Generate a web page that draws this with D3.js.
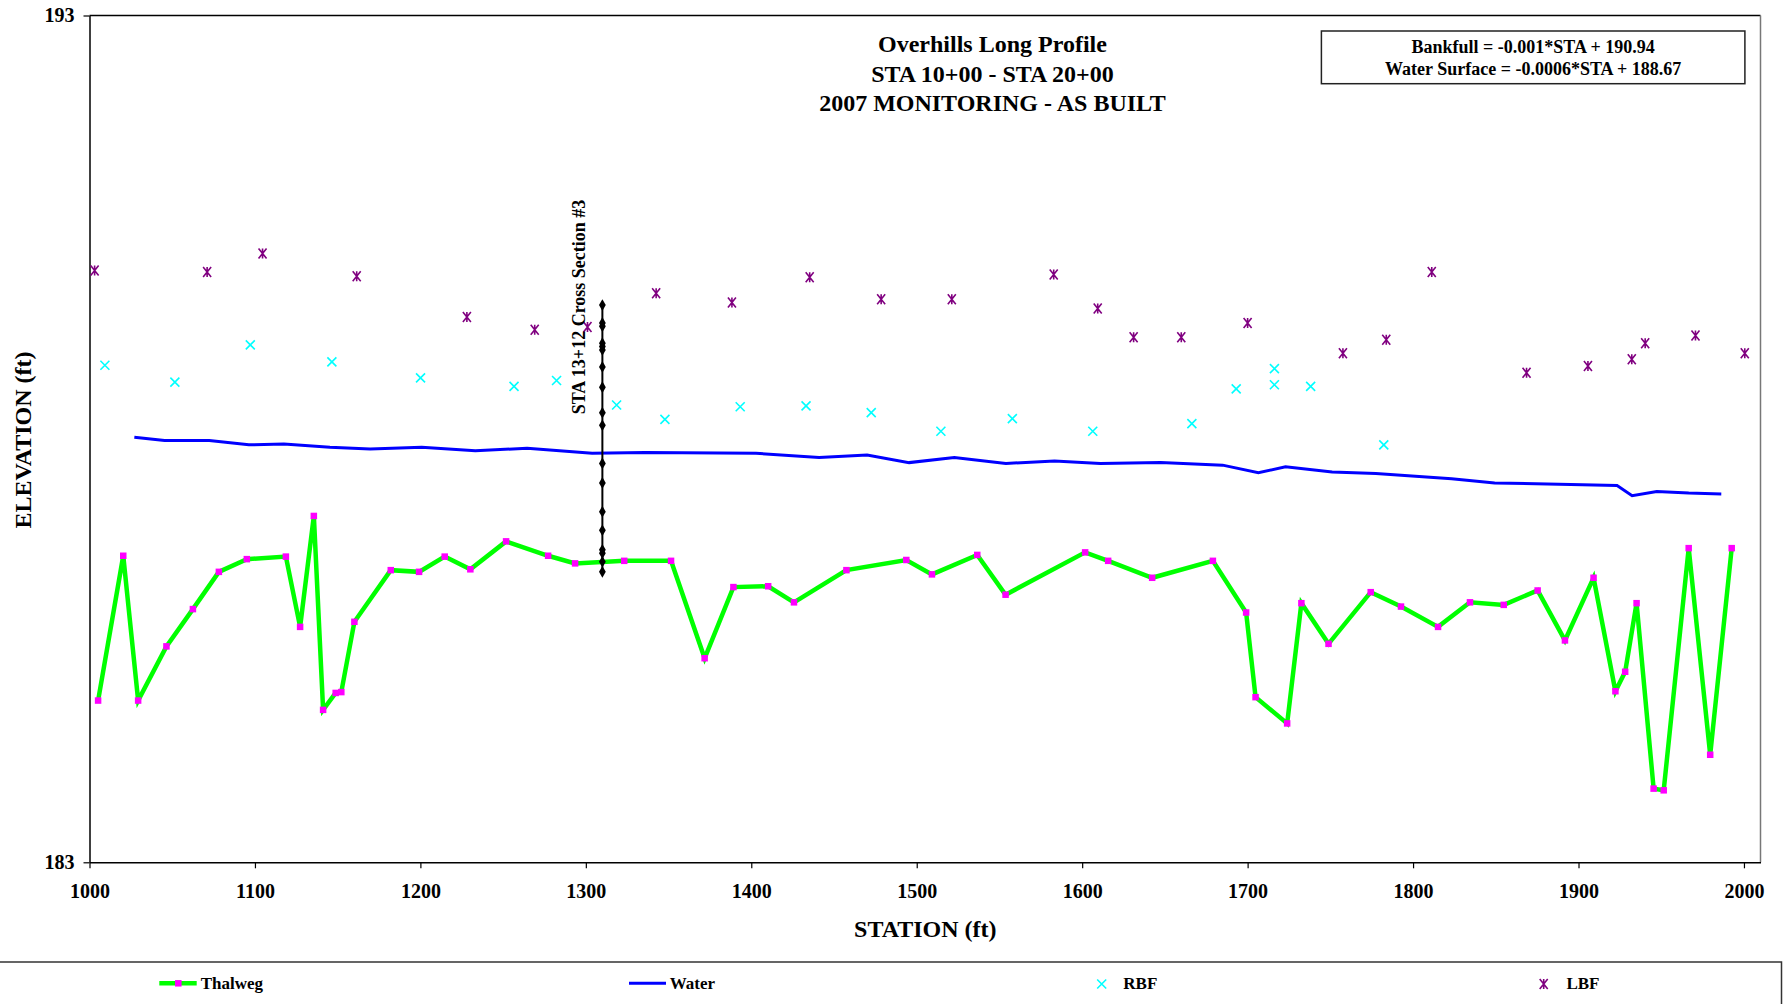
<!DOCTYPE html>
<html>
<head>
<meta charset="utf-8">
<script src="https://cdn.jsdelivr.net/npm/d3@7"></script>
<style>
  html, body { margin: 0; padding: 0; background: #fff; }
  svg { display: block; }
  text { font-family: "Liberation Serif", "Times New Roman", serif; font-weight: bold; fill: #000; }
</style>
</head>
<body>
<script>
// Overhills long profile, STA 10+00 to STA 20+00 (2007 monitoring, as built)

const thalwegSta = [1005.2, 1020.4, 1029.4, 1046.5, 1062.5, 1078.2, 1095.1, 1118.7, 1127.3, 1135.6,
  1141.2, 1148.8, 1152.2, 1160.1, 1182.1, 1199.2, 1214.7, 1230.2, 1251.8, 1277.2,
  1293.5, 1323.2, 1351.5, 1371.8, 1389.2, 1410.2, 1425.8, 1457.5, 1493.7, 1509.2,
  1536.6, 1553.7, 1601.8, 1615.7, 1642.3, 1679.0, 1699.1, 1704.8, 1723.9, 1732.5,
  1748.9, 1774.4, 1792.7, 1815.1, 1834.4, 1854.8, 1875.3, 1891.8, 1909.1, 1922.3,
  1928.2, 1935.1, 1945.4, 1951.5, 1966.6, 1979.6, 1992.6];
const thalwegElev = [184.91, 186.62, 184.91, 185.55, 185.99, 186.43, 186.58, 186.61, 185.78, 187.09,
  184.80, 185.00, 185.01, 185.84, 186.45, 186.43, 186.61, 186.46, 186.79, 186.62,
  186.53, 186.56, 186.56, 185.41, 186.25, 186.26, 186.07, 186.45, 186.57, 186.40,
  186.63, 186.16, 186.66, 186.56, 186.36, 186.56, 185.95, 184.95, 184.64, 186.06,
  185.58, 186.19, 186.02, 185.78, 186.07, 186.04, 186.21, 185.62, 186.36, 185.02,
  185.25, 186.06, 183.87, 183.85, 186.71, 184.27, 186.71];

const waterSta = [1027.1, 1045.4, 1072.4, 1096.3, 1117.5, 1145.3, 1169.6, 1200.8, 1233.2, 1264.5,
  1303.8, 1335.7, 1402.9, 1441.0, 1470.0, 1495.4, 1522.7, 1553.9, 1583.3, 1611.0,
  1647.4, 1684.9, 1706.5, 1722.9, 1751.1, 1777.5, 1823.3, 1849.3, 1923.3, 1932.4,
  1947.3, 1966.6, 1986.3];
const waterElev = [188.02, 187.98, 187.98, 187.93, 187.94, 187.90, 187.88, 187.90, 187.86, 187.89,
  187.83, 187.84, 187.83, 187.78, 187.81, 187.72, 187.78, 187.71, 187.74, 187.71,
  187.72, 187.69, 187.60, 187.67, 187.61, 187.59, 187.53, 187.48, 187.45, 187.33,
  187.38, 187.36, 187.35];

const rbfSta = [1009.3, 1051.6, 1097.2, 1146.5, 1200.1, 1256.6, 1282.3, 1318.6, 1347.8, 1393.3,
  1433.1, 1472.5, 1514.6, 1557.8, 1606.4, 1666.3, 1693.1, 1716.2, 1716.2, 1738.1, 1782.3];
const rbfElev = [188.87, 188.67, 189.11, 188.91, 188.72, 188.62, 188.69, 188.40, 188.23, 188.38,
  188.39, 188.31, 188.09, 188.24, 188.09, 188.18, 188.59, 188.83, 188.64, 188.62, 187.93];

const lbfSta = [1003.1, 1071.1, 1104.6, 1161.5, 1228.1, 1269.1, 1301.0, 1342.5, 1388.3, 1435.3,
  1478.5, 1521.2, 1582.8, 1609.4, 1631.1, 1659.9, 1700.0, 1757.6, 1783.8, 1811.3,
  1868.6, 1905.7, 1932.2, 1940.3, 1970.7, 2000.5];
const lbfElev = [189.99, 189.97, 190.19, 189.92, 189.44, 189.29, 189.32, 189.72, 189.61, 189.91,
  189.65, 189.65, 189.94, 189.54, 189.20, 189.20, 189.37, 189.01, 189.17, 189.97,
  188.78, 188.86, 188.94, 189.13, 189.22, 189.01];

// Cross section #3 surveyed at STA 13+12
const xsSta = 1310;
const xsElev = [189.58, 189.37, 189.33, 189.13, 189.09, 189.05, 188.85, 188.61, 188.31, 188.16,
  187.71, 187.48, 187.14, 186.92, 186.69, 186.65, 186.55, 186.43];

const xTicks = [1000, 1100, 1200, 1300, 1400, 1500, 1600, 1700, 1800, 1900, 2000];
const yTicks = [183, 193];

const titleLines = ["Overhills Long Profile", "STA 10+00 - STA 20+00", "2007 MONITORING - AS BUILT"];
const equationLines = ["Bankfull = -0.001*STA + 190.94", "Water Surface = -0.0006*STA + 188.67"];
const seriesNames = ["Thalweg", "Water", "RBF", "LBF"];

const W = 1783, H = 1004;
const svg = d3.select("body").append("svg").attr("width", W).attr("height", H);

const x = d3.scaleLinear().domain([1000, 2010]).range([89.5, 1760.5]);
const y = d3.scaleLinear().domain([183, 193]).range([862.3, 15.5]);

const zip = (a, b) => a.map((v, i) => [v, b[i]]);
const thalweg = zip(thalwegSta, thalwegElev);
const water = zip(waterSta, waterElev);
const rbf = zip(rbfSta, rbfElev);
const lbf = zip(lbfSta, lbfElev);
const xs = xsElev.map(e => [xsSta, e]);

// plot frame: black top, grey right side
svg.append("line").attr("x1", x(1000)).attr("x2", x(2010)).attr("y1", y(193)).attr("y2", y(193))
  .attr("stroke", "#000").attr("stroke-width", 1.5);
svg.append("line").attr("x1", x(2010)).attr("x2", x(2010)).attr("y1", y(193)).attr("y2", y(183))
  .attr("stroke", "#777").attr("stroke-width", 1.5);

// axes
const gx = svg.append("g").attr("transform", `translate(0,${y(183)})`)
  .call(d3.axisBottom(x).tickValues(xTicks).tickSize(6).tickPadding(16).tickSizeOuter(0).tickFormat(d3.format("d")));
const gy = svg.append("g").attr("transform", `translate(${x(1000)},0)`)
  .call(d3.axisLeft(y).tickValues(yTicks).tickSize(6).tickPadding(9).tickSizeOuter(0).tickFormat(d3.format("d")));
[gx, gy].forEach(g => {
  g.select(".domain").attr("stroke", "#000").attr("stroke-width", 1.5);
  g.selectAll(".tick line").attr("stroke", "#000").attr("stroke-width", 1.2);
  g.selectAll(".tick text").style("font-family", '"Liberation Serif", "Times New Roman", serif')
    .style("font-weight", "bold").style("font-size", "20px").attr("fill", "#000");
});

const line = d3.line().x(d => x(d[0])).y(d => y(d[1]));

// Thalweg
svg.append("path").datum(thalweg).attr("d", line).attr("fill", "none")
  .attr("stroke", "#00ff00").attr("stroke-width", 4.5).attr("stroke-linejoin", "miter");
svg.append("g").selectAll("rect").data(thalweg).join("rect")
  .attr("x", d => x(d[0]) - 3.25).attr("y", d => y(d[1]) - 3.25).attr("width", 6.5).attr("height", 6.5)
  .attr("fill", "#ff00ff");

// Water surface
svg.append("path").datum(water).attr("d", line).attr("fill", "none")
  .attr("stroke", "#0000ff").attr("stroke-width", 3);

// marker shapes
function xMark(g, s, color) {
  g.append("path").attr("d", `M${-s},${-s}L${s},${s}M${-s},${s}L${s},${-s}`)
    .attr("stroke", color).attr("stroke-width", 1.6).attr("fill", "none");
}
function starMark(g, s, color) {
  g.append("path").attr("d", `M${-s * 0.8},${-s}L${s * 0.8},${s}M${-s * 0.8},${s}L${s * 0.8},${-s}M0,${-s}L0,${s}`)
    .attr("stroke", color).attr("stroke-width", 1.6).attr("fill", "none");
}

// Right bankfull
svg.append("g").selectAll("g").data(rbf).join("g")
  .attr("transform", d => `translate(${x(d[0])},${y(d[1])})`)
  .each(function () { xMark(d3.select(this), 4.5, "#00ffff"); });

// Left bankfull
svg.append("g").selectAll("g").data(lbf).join("g")
  .attr("transform", d => `translate(${x(d[0])},${y(d[1])})`)
  .each(function () { starMark(d3.select(this), 5, "#800080"); });

// Cross section #3
svg.append("path").datum(xs).attr("d", line).attr("fill", "none")
  .attr("stroke", "#000").attr("stroke-width", 2);
svg.append("g").selectAll("path").data(xs).join("path")
  .attr("d", d3.symbol().type(d3.symbolDiamond).size(40))
  .attr("transform", d => `translate(${x(d[0])},${y(d[1])})`)
  .attr("fill", "#000");
svg.append("text").attr("transform", "translate(585,307) rotate(-90)")
  .attr("text-anchor", "middle").style("font-size", "18px").text("STA 13+12 Cross Section #3");

// title
svg.append("g").selectAll("text").data(titleLines).join("text")
  .attr("x", 992.5).attr("y", (d, i) => 52.3 + i * 29.5)
  .attr("text-anchor", "middle").style("font-size", "24px").text(d => d);

// regression equations
svg.append("rect").attr("x", 1321.4).attr("y", 31).attr("width", 423.5).attr("height", 52.7)
  .attr("fill", "#fff").attr("stroke", "#222").attr("stroke-width", 1.5);
svg.append("g").selectAll("text").data(equationLines).join("text")
  .attr("x", 1533.2).attr("y", (d, i) => 52.7 + i * 22.6)
  .attr("text-anchor", "middle").style("font-size", "18px").text(d => d);

// axis titles
svg.append("text").attr("transform", "translate(31,440) rotate(-90)")
  .attr("text-anchor", "middle").style("font-size", "24px").text("ELEVATION (ft)");
svg.append("text").attr("x", 925.3).attr("y", 937.3)
  .attr("text-anchor", "middle").style("font-size", "24px").text("STATION (ft)");

// legend
svg.append("rect").attr("x", -2).attr("y", 962).attr("width", 1783.5).attr("height", 60)
  .attr("fill", "#fff").attr("stroke", "#333").attr("stroke-width", 1.5);
const ly = 983.3;
const leg = svg.append("g");
// Thalweg key
leg.append("line").attr("x1", 159.3).attr("x2", 196.7).attr("y1", ly).attr("y2", ly)
  .attr("stroke", "#00ff00").attr("stroke-width", 4.5);
leg.append("rect").attr("x", 178.3 - 3.25).attr("y", ly - 3.25).attr("width", 6.5).attr("height", 6.5).attr("fill", "#ff00ff");
// Water key
leg.append("line").attr("x1", 629).attr("x2", 666).attr("y1", ly).attr("y2", ly)
  .attr("stroke", "#0000ff").attr("stroke-width", 3);
// RBF key
xMark(leg.append("g").attr("transform", `translate(1101.7,${ly + 0.7})`), 4.5, "#00ffff");
// LBF key
starMark(leg.append("g").attr("transform", `translate(1543.7,${ly + 0.7})`), 5, "#800080");

const legX = [200.7, 669.8, 1123.3, 1566.4];
leg.selectAll("text").data(seriesNames).join("text")
  .attr("x", (d, i) => legX[i]).attr("y", 989.3)
  .style("font-size", "17px").text(d => d);
</script>
</body>
</html>
